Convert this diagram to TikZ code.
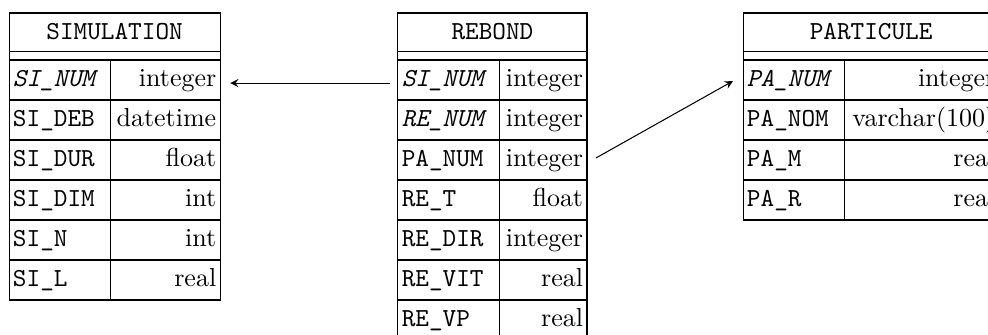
\documentclass[tikz,border=0pt]{standalone}
\usetikzlibrary{positioning}
\begin{document}
\begin{tikzpicture}[
  tblhead/.style={draw, outer sep=0pt, inner sep=0pt, anchor=north west, minimum height=15pt, text height=8pt, text depth=2.8pt, font=\ttfamily},
  cell/.style={draw, outer sep=0pt, inner xsep=1.5pt, inner ysep=0pt, minimum height=15.4pt, text height=8pt, text depth=2.8pt},
  attr/.style={cell, font=\ttfamily, align=left, text width=#1},
  dtype/.style={cell, align=right, text width=#1}
]
     \useasboundingbox (0,0) rectangle (380.4pt,-128.6pt);
     % SIMULATION
     \node[tblhead, minimum width=81.25pt] (simh) at (3.5pt,-5pt) {SIMULATION};
     \node[attr=35.9pt, anchor=north west] (sim1a) at ([yshift=-3.1pt]simh.south west) {\itshape SI\_NUM};
     \node[dtype=39.35pt, right=0pt of sim1a] (sim1t) {integer};
     \node[attr=35.9pt, below=0pt of sim1a] (sim2a) {SI\_DEB};
     \node[dtype=39.35pt, right=0pt of sim2a] (sim2t) {datetime};
     \node[attr=35.9pt, below=0pt of sim2a] (sim3a) {SI\_DUR};
     \node[dtype=39.35pt, right=0pt of sim3a] (sim3t) {float};
     \node[attr=35.9pt, below=0pt of sim3a] (sim4a) {SI\_DIM};
     \node[dtype=39.35pt, right=0pt of sim4a] (sim4t) {int};
     \node[attr=35.9pt, below=0pt of sim4a] (sim5a) {SI\_N};
     \node[dtype=39.35pt, right=0pt of sim5a] (sim5t) {int};
     \node[attr=35.9pt, below=0pt of sim5a] (sim6a) {SI\_L};
     \node[dtype=39.35pt, right=0pt of sim6a] (sim6t) {real};
     \draw (simh.south west) rectangle (sim1t.north east);
     % REBOND
     \node[tblhead, minimum width=72.8pt] (rebh) at (153.2pt,-5pt) {REBOND};
     \node[attr=36.3pt, anchor=north west] (reb1a) at ([yshift=-3.1pt]rebh.south west) {\itshape SI\_NUM};
     \node[dtype=30.5pt, right=0pt of reb1a] (reb1t) {integer};
     \node[attr=36.3pt, below=0pt of reb1a] (reb2a) {\itshape RE\_NUM};
     \node[dtype=30.5pt, right=0pt of reb2a] (reb2t) {integer};
     \node[attr=36.3pt, below=0pt of reb2a] (reb3a) {PA\_NUM};
     \node[dtype=30.5pt, right=0pt of reb3a] (reb3t) {integer};
     \node[attr=36.3pt, below=0pt of reb3a] (reb4a) {RE\_T};
     \node[dtype=30.5pt, right=0pt of reb4a] (reb4t) {float};
     \node[attr=36.3pt, below=0pt of reb4a] (reb5a) {RE\_DIR};
     \node[dtype=30.5pt, right=0pt of reb5a] (reb5t) {integer};
     \node[attr=36.3pt, below=0pt of reb5a] (reb6a) {RE\_VIT};
     \node[dtype=30.5pt, right=0pt of reb6a] (reb6t) {real};
     \node[attr=36.3pt, below=0pt of reb6a] (reb7a) {RE\_VP};
     \node[dtype=30.5pt, right=0pt of reb7a] (reb7t) {real};
     \draw (rebh.south west) rectangle (reb1t.north east);
     % PARTICULE
     \node[tblhead, minimum width=98.6pt] (parh) at (286.1pt,-5pt) {PARTICULE};
     \node[attr=35.9pt, anchor=north west] (par1a) at ([yshift=-3.1pt]parh.south west) {\itshape PA\_NUM};
     \node[dtype=56.7pt, right=0pt of par1a] (par1t) {integer};
     \node[attr=35.9pt, below=0pt of par1a] (par2a) {PA\_NOM};
     \node[dtype=56.7pt, right=0pt of par2a] (par2t) {varchar(100)};
     \node[attr=35.9pt, below=0pt of par2a] (par3a) {PA\_M};
     \node[dtype=56.7pt, right=0pt of par3a] (par3t) {real};
     \node[attr=35.9pt, below=0pt of par3a] (par4a) {PA\_R};
     \node[dtype=56.7pt, right=0pt of par4a] (par4t) {real};
     \draw (parh.south west) rectangle (par1t.north east);
     % links
     \draw[-stealth, shorten <=3pt, shorten >=3.9pt] ([yshift=-1.2pt]reb1a.west) -- ([yshift=-1.2pt]sim1t.east);
     \draw[-stealth] ([xshift=3.5pt,yshift=0.8pt]reb3t.east) -- ([xshift=-3.9pt,yshift=-0.4pt]par1a.west);
    \end{tikzpicture}
\end{document}
